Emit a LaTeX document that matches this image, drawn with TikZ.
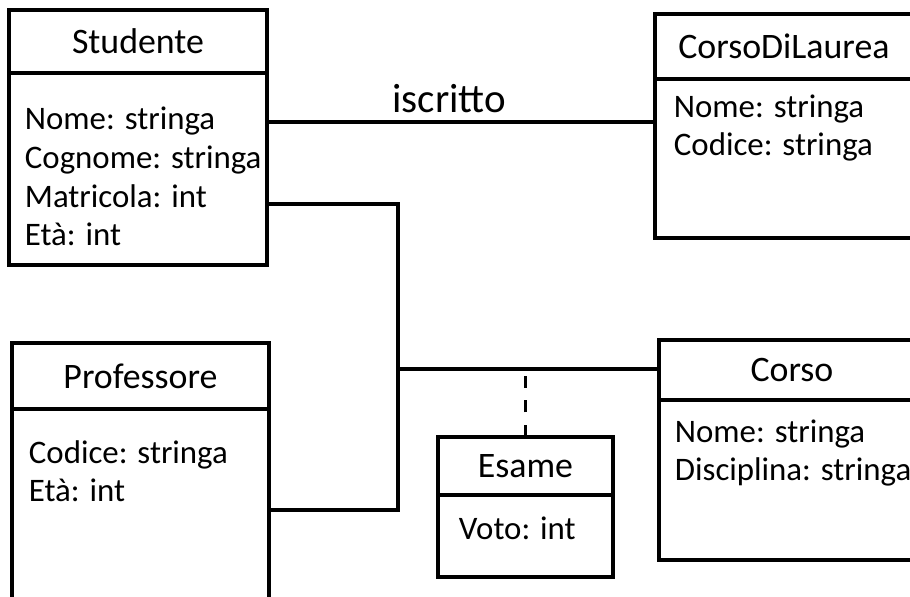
\documentclass[tikz,border=0pt]{standalone}
\usepackage{fontspec}
\setmainfont{Carlito}
\usetikzlibrary{positioning,calc}
\begin{document}
\begin{tikzpicture}[x=0.02cm,y=-0.02cm,line width=2.2pt,
  hd/.style={draw,anchor=north west,inner sep=0pt,outer sep=0pt,font=\fontsize{20.4}{24}\selectfont},
  bd/.style={draw,inner sep=0pt,outer sep=0pt},
  at2/.style={anchor=base west,align=left,inner sep=0pt,font=\fontsize{18.7}{22.1}\selectfont}]
\clip (0,0) rectangle (910,596);
% classes (attribute text is placed by its last line)
\node[hd,minimum width=5.16cm,minimum height=1.26cm] (stud) at (9,10) {Studente};
\node[bd,below=0pt of stud,minimum width=5.16cm,minimum height=3.84cm] (studB) {};
\node[at2] (studA) at ($(studB.north west)+(14,173)$) {Nome: stringa\\Cognome: stringa\\Matricola: int\\Età: int};
\node[hd,minimum width=5.16cm,minimum height=1.30cm] (cdl) at (655,14) {CorsoDiLaurea};
\node[bd,below=0pt of cdl,minimum width=5.16cm,minimum height=3.18cm] (cdlB) {};
\node[at2] (cdlA) at ($(cdlB.north west)+(17,77)$) {Nome: stringa\\Codice: stringa};
\node[hd,minimum width=5.14cm,minimum height=1.32cm] (prof) at (12,343) {Professore};
\node[bd,below=0pt of prof,minimum width=5.14cm,minimum height=4cm] (profB) {};
\node[at2] (profA) at ($(profB.north west)+(15,93)$) {Codice: stringa\\Età: int};
\node[hd,minimum width=3.5cm,minimum height=1.16cm] (es) at (438,437) {Esame};
\node[bd,below=0pt of es,minimum width=3.5cm,minimum height=1.64cm] (esB) {};
\node[at2] (esA) at ($(esB.north west)+(19,45)$) {Voto: int};
\node[hd,minimum width=5.32cm,minimum height=1.2cm] (cor) at (659,340) {Corso};
\node[bd,below=0pt of cor,minimum width=5.32cm,minimum height=3.2cm] (corB) {};
\node[at2] (corA) at ($(corB.north west)+(14,81)$) {Nome: stringa\\Disciplina: stringa};
% links
\coordinate (jn) at (398,369);
\coordinate (isc) at (0,122);
\coordinate (mat) at (0,204);
\coordinate (prf) at (0,510);
\draw (studB.east |- isc) -- (cdlB.west |- isc) node[pos=.47,above=4pt,inner sep=0pt,font=\fontsize{23.3}{28}\selectfont] (iscL) {iscritto};
\draw (studB.east |- mat) -- (jn |- mat) -- (jn |- prf) -- (profB.east |- prf);
\draw (jn) -- (cor.west |- jn);
\draw[dash pattern=on 7pt off 7pt] (es.north) -- (es.north |- jn);
\end{tikzpicture}
\end{document}
